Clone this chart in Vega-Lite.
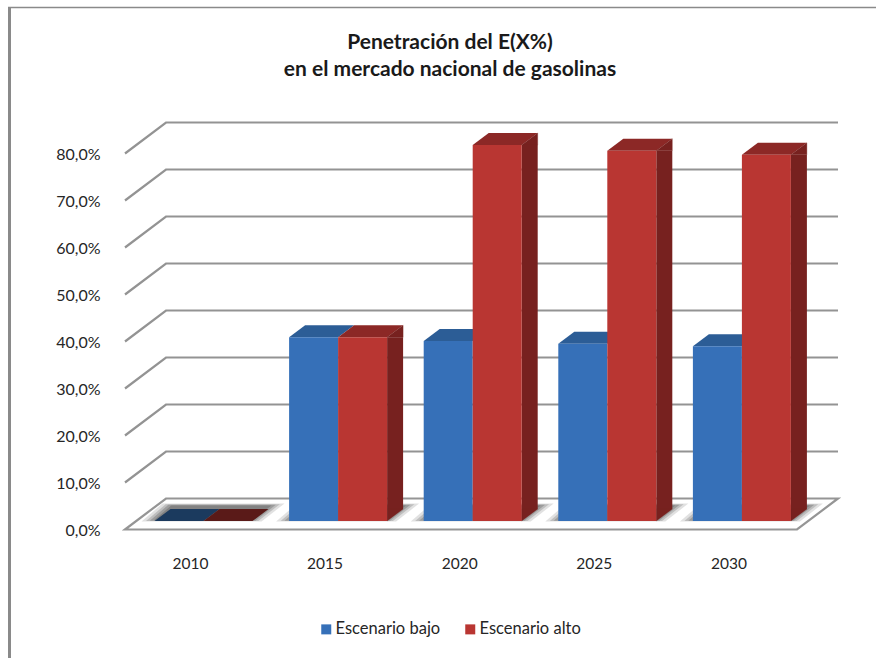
{
  "$schema": "https://vega.github.io/schema/vega-lite/v6.json",
  "width": 876,
  "height": 658,
  "padding": 0,
  "autosize": {"type": "none"},
  "background": "white",
  "view": {"stroke": null},
  "config": {
    "locale": {"number": {"decimal": ",", "thousands": ".", "grouping": [3], "currency": ["", " €"]}},
    "font": "Lato"
  },
  "title": {
    "text": ["Penetración del E(X%)", "en el mercado nacional de gasolinas"],
    "font": "Lato",
    "fontSize": 21,
    "fontWeight": "bold",
    "color": "#1a1a1a",
    "lineHeight": 27,
    "anchor": "middle",
    "dx": 12,
    "offset": -80
  },
  "datasets": {
    "escenarios": [
      {"anio": "2010", "escenario": "Escenario bajo", "valor": 0},
      {"anio": "2010", "escenario": "Escenario alto", "valor": 0},
      {"anio": "2015", "escenario": "Escenario bajo", "valor": 0.391},
      {"anio": "2015", "escenario": "Escenario alto", "valor": 0.391},
      {"anio": "2020", "escenario": "Escenario bajo", "valor": 0.383},
      {"anio": "2020", "escenario": "Escenario alto", "valor": 0.80},
      {"anio": "2025", "escenario": "Escenario bajo", "valor": 0.377},
      {"anio": "2025", "escenario": "Escenario alto", "valor": 0.788},
      {"anio": "2030", "escenario": "Escenario bajo", "valor": 0.372},
      {"anio": "2030", "escenario": "Escenario alto", "valor": 0.779}
    ],
    "marcas": [
      {"marca": 0}, {"marca": 0.1}, {"marca": 0.2}, {"marca": 0.3}, {"marca": 0.4},
      {"marca": 0.5}, {"marca": 0.6}, {"marca": 0.7}, {"marca": 0.8}
    ]
  },
  "data": {"name": "escenarios"},
  "encoding": {
    "x": {
      "field": "anio",
      "type": "nominal",
      "scale": {"type": "band", "domain": ["2010", "2015", "2020", "2025", "2030"], "range": [123.2, 796.2], "paddingInner": 0, "paddingOuter": 0},
      "axis": {
        "title": null,
        "orient": "bottom",
        "offset": -110,
        "domain": false,
        "ticks": false,
        "labelAngle": 0,
        "labelPadding": 8,
        "labelFont": "Lato",
        "labelFontSize": 15.5,
        "labelColor": "#262626",
        "grid": false
      }
    },
    "y": {
      "field": "valor",
      "type": "quantitative",
      "stack": false,
      "scale": {"domain": [-0.2734, 1.1266], "nice": false, "zero": false},
      "axis": {
        "title": null,
        "orient": "left",
        "offset": -122,
        "domain": false,
        "ticks": false,
        "grid": false,
        "values": [0, 0.1, 0.2, 0.3, 0.4, 0.5, 0.6, 0.7, 0.8],
        "format": ".1%",
        "labelPadding": 22,
        "labelOffset": 1,
        "labelFont": "Lato",
        "labelFontSize": 16,
        "labelColor": "#262626"
      }
    }
  },
  "layer": [
    {
      "description": "Frame of the chart area, left edge",
      "data": {"values": [{"anio": "2010", "valor": 0}]},
      "mark": {"type": "point", "shape": "M-181,129L-181,-522", "size": 4, "filled": false, "stroke": "#8a8a8a", "strokeWidth": 3, "opacity": 1}
    },
    {
      "description": "Frame of the chart area, top edge",
      "data": {"values": [{"anio": "2010", "valor": 0}]},
      "mark": {"type": "point", "shape": "M-182.5,-522L686,-522", "size": 4, "filled": false, "stroke": "#8a8a8a", "strokeWidth": 1.5, "opacity": 1}
    },
    {
      "description": "Floor of the 3D box",
      "data": {"values": [{"anio": "2010", "valor": 0}]},
      "mark": {"type": "point", "shape": "M-65.5,0L-24.5,-31L647.5,-31L606.5,0Z", "size": 4, "filled": true, "fill": "white", "stroke": "#959595", "strokeWidth": 2.2, "opacity": 1}
    },
    {
      "description": "Soft shadow on the floor, outer",
      "transform": [{"filter": "datum.escenario === 'Escenario bajo'"}],
      "mark": {"type": "point", "shape": "M-70,7L-49,-11L73,-11L50,7Z", "size": 4, "filled": true, "fill": "#444", "stroke": null, "opacity": 0.16, "xOffset": 21, "yOffset": -15},
      "encoding": {"y": {"datum": 0}}
    },
    {
      "description": "Soft shadow on the floor, middle",
      "transform": [{"filter": "datum.escenario === 'Escenario bajo'"}],
      "mark": {"type": "point", "shape": "M-70,7L-49,-11L73,-11L50,7Z", "size": 3.5, "filled": true, "fill": "#444", "stroke": null, "opacity": 0.22, "xOffset": 21, "yOffset": -15},
      "encoding": {"y": {"datum": 0}}
    },
    {
      "description": "Soft shadow on the floor, inner",
      "transform": [{"filter": "datum.escenario === 'Escenario bajo'"}],
      "mark": {"type": "point", "shape": "M-70,7L-49,-11L73,-11L50,7Z", "size": 3.1, "filled": true, "fill": "#444", "stroke": null, "opacity": 0.28, "xOffset": 21, "yOffset": -15},
      "encoding": {"y": {"datum": 0}}
    },
    {
      "description": "Soft shadow on the floor, closest to the bars",
      "transform": [{"filter": "datum.escenario === 'Escenario bajo'"}],
      "mark": {"type": "point", "shape": "M-70,7L-49,-11L73,-11L50,7Z", "size": 2.7, "filled": true, "fill": "#444", "stroke": null, "opacity": 0.3, "xOffset": 21, "yOffset": -15},
      "encoding": {"y": {"datum": 0}}
    },
    {
      "description": "Gridlines running along the side wall and the back wall",
      "data": {"name": "marcas"},
      "transform": [{"filter": "datum.marca > 0"}],
      "mark": {"type": "point", "shape": "M-65.5,0L-24.5,-31L647.5,-31", "size": 4, "filled": false, "stroke": "#939393", "strokeWidth": 2.2, "opacity": 1},
      "encoding": {"x": {"datum": "2010"}, "y": {"field": "marca", "type": "quantitative"}}
    },
    {
      "description": "Vertical edge of the side wall",
      "data": {"values": [{"anio": "2010"}]},
      "mark": {"type": "rule", "stroke": "#939393", "strokeWidth": 2.2, "xOffset": -65.5},
      "encoding": {"y": {"datum": 0}, "y2": {"datum": 0.8}}
    },
    {
      "description": "Top faces, low scenario",
      "transform": [{"filter": "datum.escenario === 'Escenario bajo'"}],
      "mark": {"type": "point", "shape": "M0,0L49,0L65,-12L16,-12Z", "size": 4, "filled": true, "stroke": null, "opacity": 1, "xOffset": -36, "yOffset": -8.5},
      "encoding": {"fill": {"condition": {"test": "datum.valor === 0", "value": "#1b3a5e"}, "value": "#2c5d96"}}
    },
    {
      "description": "Top faces, high scenario",
      "transform": [{"filter": "datum.escenario === 'Escenario alto'"}],
      "mark": {"type": "point", "shape": "M0,0L49,0L65,-12L16,-12Z", "size": 4, "filled": true, "stroke": null, "opacity": 1, "xOffset": 13, "yOffset": -8.5},
      "encoding": {"fill": {"condition": {"test": "datum.valor === 0", "value": "#5a1a18"}, "value": "#8c2826"}}
    },
    {
      "description": "Side face, upper corner",
      "transform": [{"filter": "datum.escenario === 'Escenario alto' && datum.valor > 0"}],
      "mark": {"type": "point", "shape": "M0,0L16,-12L16,0Z", "size": 4, "filled": true, "fill": "#77211f", "stroke": "#77211f", "strokeWidth": 0.3, "opacity": 1, "xOffset": 62, "yOffset": -8.5}
    },
    {
      "description": "Side face, body",
      "transform": [{"filter": "datum.escenario === 'Escenario alto' && datum.valor > 0"}],
      "mark": {"type": "bar", "width": 16, "fill": "#77211f", "xOffset": 70, "yOffset": -8.5, "y2Offset": -20.5},
      "encoding": {"y2": {"datum": 0}}
    },
    {
      "description": "Side face, lower corner",
      "transform": [{"filter": "datum.escenario === 'Escenario alto' && datum.valor > 0"}],
      "mark": {"type": "point", "shape": "M0,0L16,-12L0,-12Z", "size": 4, "filled": true, "fill": "#77211f", "stroke": "#77211f", "strokeWidth": 0.3, "opacity": 1, "xOffset": 62, "yOffset": -8.5},
      "encoding": {"y": {"datum": 0}}
    },
    {
      "description": "Front faces, low scenario, carrying the legend",
      "transform": [{"filter": "datum.escenario === 'Escenario bajo' && datum.valor > 0"}],
      "mark": {"type": "bar", "width": 49, "xOffset": -11.5, "yOffset": -8.5, "y2Offset": -8.5},
      "encoding": {
        "y2": {"datum": 0},
        "fill": {
          "field": "escenario",
          "type": "nominal",
          "scale": {"domain": ["Escenario bajo", "Escenario alto"], "range": ["#3670b8", "#b93632"]},
          "legend": {
            "title": null,
            "orient": "none",
            "direction": "horizontal",
            "legendX": 318,
            "legendY": 621,
            "symbolType": "square",
            "symbolSize": 100,
            "symbolStrokeWidth": 0,
            "columnPadding": 21,
            "labelFont": "Lato",
            "labelFontSize": 16.5,
            "labelColor": "#262626",
            "labelOffset": 1
          }
        }
      }
    },
    {
      "description": "Front faces, high scenario",
      "transform": [{"filter": "datum.escenario === 'Escenario alto' && datum.valor > 0"}],
      "mark": {"type": "bar", "width": 49, "xOffset": 37.5, "yOffset": -8.5, "y2Offset": -8.5},
      "encoding": {
        "y2": {"datum": 0},
        "fill": {"field": "escenario", "type": "nominal"}
      }
    }
  ]
}
